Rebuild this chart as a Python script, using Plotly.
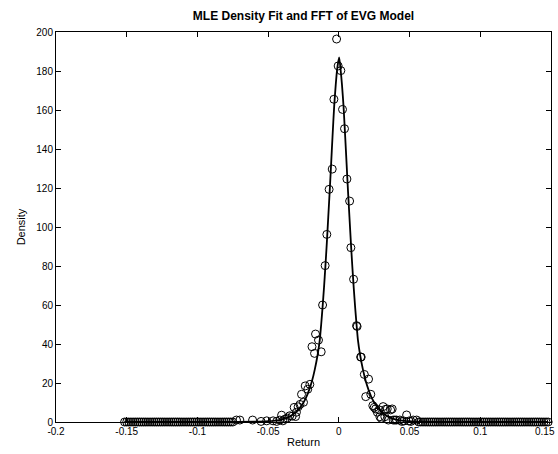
import plotly.graph_objects as go

# ---- data ----
# empirical density points (circles): far left tail (all ~0)
tail_left_x = [-0.1515, -0.1500, -0.1485, -0.1470, -0.1455, -0.1440, -0.1425, -0.1410, -0.1395,
               -0.1380, -0.1365, -0.1350, -0.1335, -0.1320, -0.1305, -0.1290, -0.1275, -0.1260,
               -0.1245, -0.1230, -0.1215, -0.1200, -0.1185, -0.1170, -0.1155, -0.1140, -0.1125,
               -0.1110, -0.1095, -0.1080, -0.1065, -0.1050, -0.1035, -0.1020, -0.1005, -0.0990,
               -0.0975, -0.0960, -0.0945, -0.0930, -0.0915, -0.0900, -0.0885, -0.0870, -0.0855,
               -0.0840, -0.0825, -0.0810, -0.0795, -0.0780, -0.0765, -0.0750]
tail_left_y = [0.0] * len(tail_left_x)

# central part of the empirical density
core_x = [-0.0724, -0.0700, -0.0610, -0.0550, -0.0510, -0.0465, -0.0440, -0.0417, -0.0405,
          -0.0396, -0.0380, -0.0365, -0.0347, -0.0330, -0.0316, -0.0306, -0.0300, -0.0288,
          -0.0275, -0.0264, -0.0250, -0.0238, -0.0220, -0.0205, -0.0190, -0.0172, -0.0165,
          -0.0144, -0.0125, -0.0115, -0.0097, -0.0085, -0.0069, -0.0047, -0.0035, -0.0016,
          -0.0005, 0.0014, 0.0026, 0.0040, 0.0057, 0.0076, 0.0085, 0.0104, 0.0125, 0.0129,
          0.0154, 0.0158, 0.0180, 0.0190, 0.0210, 0.0226, 0.0240, 0.0250, 0.0260, 0.0272,
          0.0285, 0.0290, 0.0300, 0.0313, 0.0325, 0.0330, 0.0342, 0.0350, 0.0366, 0.0377,
          0.0384, 0.0396, 0.0408, 0.0431, 0.0445, 0.0460, 0.0479, 0.0495, 0.0510, 0.0526,
          0.0550]
core_y = [1.0, 1.0, 1.0, 0.3, 0.6, 0.6, 0.3, 1.0, 3.5,
          0.6, 1.5, 2.0, 3.2, 3.0, 7.5, 2.8, 5.0, 7.8,
          9.0, 14.2, 10.1, 18.5, 16.8, 19.3, 38.6, 35.2, 45.1,
          42.0, 36.0, 60.0, 80.2, 96.2, 119.3, 129.7, 165.5, 196.4,
          182.6, 180.2, 160.3, 150.4, 124.6, 113.3, 89.4, 73.2, 49.4, 49.0,
          33.3, 33.3, 24.4, 13.0, 22.0, 14.2, 8.4, 7.5, 6.7, 5.0,
          6.2, 2.7, 1.9, 7.9, 2.7, 6.5, 6.7, 1.0, 6.2, 6.7,
          1.0, 1.0, 1.0, 1.0, 0.3, 0.5, 3.6, 0.5, 0.3, 1.0,
          1.0]

# far right tail (all ~0)
tail_right_x = [0.0565, 0.0580, 0.0595, 0.0610, 0.0625, 0.0640, 0.0655, 0.0670, 0.0685, 0.0700,
                0.0715, 0.0730, 0.0745, 0.0760, 0.0775, 0.0790, 0.0805, 0.0820, 0.0835, 0.0850,
                0.0865, 0.0880, 0.0895, 0.0910, 0.0925, 0.0940, 0.0955, 0.0970, 0.0985, 0.1000,
                0.1015, 0.1030, 0.1045, 0.1060, 0.1075, 0.1090, 0.1105, 0.1120, 0.1135, 0.1150,
                0.1165, 0.1180, 0.1195, 0.1210, 0.1225, 0.1240, 0.1255, 0.1270, 0.1285, 0.1300,
                0.1315, 0.1330, 0.1345, 0.1360, 0.1375, 0.1390, 0.1405, 0.1420, 0.1435, 0.1450,
                0.1465, 0.1480]
tail_right_y = [0.0] * len(tail_right_x)

# fitted (MLE / FFT) density curve
fit_x = [-0.1515, -0.0800, -0.0600, -0.0500, -0.0420, -0.0370, -0.0330, -0.0295, -0.0265,
         -0.0235, -0.0210, -0.0190, -0.0170, -0.0150, -0.0135, -0.0125, -0.0115, -0.0105,
         -0.0095, -0.0085, -0.0075, -0.0065, -0.0055, -0.0045, -0.0033, -0.0022, -0.0012,
         0.0002,
         0.0012, 0.0022, 0.0033, 0.0045, 0.0055, 0.0065, 0.0075, 0.0085, 0.0095, 0.0105,
         0.0115, 0.0125, 0.0135, 0.0150, 0.0170, 0.0190, 0.0210, 0.0235, 0.0265, 0.0295,
         0.0330, 0.0370, 0.0420, 0.0500, 0.0600, 0.0800, 0.1480]
fit_y = [0.0, 0.03, 0.15, 0.4, 1.0, 2.0, 3.6, 5.6, 8.3,
         12.0, 16.5, 21.0, 27.0, 34.5, 42.0, 50.0, 59.0, 69.0,
         80.0, 92.0, 105.0, 118.0, 132.0, 146.0, 162.0, 173.0, 181.0,
         187.0,
         181.0, 173.0, 162.0, 146.0, 132.0, 118.0, 105.0, 92.0, 80.0, 69.0,
         59.0, 50.0, 42.0, 34.5, 27.0, 21.0, 16.5, 12.0, 8.3, 5.6,
         3.6, 2.0, 1.0, 0.4, 0.15, 0.03, 0.0]

x_tick_vals = [-0.2, -0.15, -0.1, -0.05, 0, 0.05, 0.1, 0.15]
x_tick_text = ["-0.2", "-0.15", "-0.1", "-0.05", "0", "0.05", "0.1", ""]
x_last_label = "0.15"   # drawn right-aligned at the page edge so it is not cut off
y_tick_vals = [0, 20, 40, 60, 80, 100, 120, 140, 160, 180, 200]

emp_x = tail_left_x + core_x + tail_right_x
emp_y = tail_left_y + core_y + tail_right_y

FONT = "Arial, Liberation Sans, Helvetica, sans-serif"

fig = go.Figure()
fig.add_trace(go.Scatter(
    x=emp_x, y=emp_y, mode="markers",
    marker=dict(symbol="circle-open", size=8, color="black", line=dict(width=1, color="black")),
    cliponaxis=False, showlegend=False, hoverinfo="skip"))
fig.add_trace(go.Scatter(
    x=fit_x, y=fit_y, mode="lines", line=dict(color="black", width=1.8, shape="spline", smoothing=0.6),
    cliponaxis=False, showlegend=False, hoverinfo="skip"))

axis_common = dict(
    showline=True, linecolor="black", linewidth=1, mirror="ticks",
    ticks="inside", ticklen=5, tickwidth=1, tickcolor="black",
    showgrid=False, zeroline=False, automargin=False,
    tickfont=dict(family=FONT, size=10, color="black"),
)

fig.update_layout(
    width=558, height=454,
    margin=dict(l=56, r=7, t=32, b=32),
    paper_bgcolor="white", plot_bgcolor="white",
    title=dict(text="<b>MLE Density Fit and FFT of EVG Model</b>",
               font=dict(family=FONT, size=12, color="black"),
               xref="paper", x=0.5, xanchor="center",
               yref="container", y=1 - 16 / 454, yanchor="middle"),
    xaxis=dict(range=[-0.2, 0.15], tickvals=x_tick_vals, ticktext=x_tick_text,
               title=dict(text="Return", font=dict(family=FONT, size=11, color="black"), standoff=2),
               **axis_common),
    yaxis=dict(range=[0, 200], tickvals=y_tick_vals,
               title=dict(text="Density", font=dict(family=FONT, size=11, color="black"), standoff=8),
               **axis_common),
)

fig.add_annotation(text=x_last_label, xref="paper", yref="paper", x=1, y=0,
                   xanchor="right", yanchor="top", xshift=6, yshift=-2, showarrow=False,
                   font=dict(family=FONT, size=10, color="black"))

fig.write_html("out.html")
